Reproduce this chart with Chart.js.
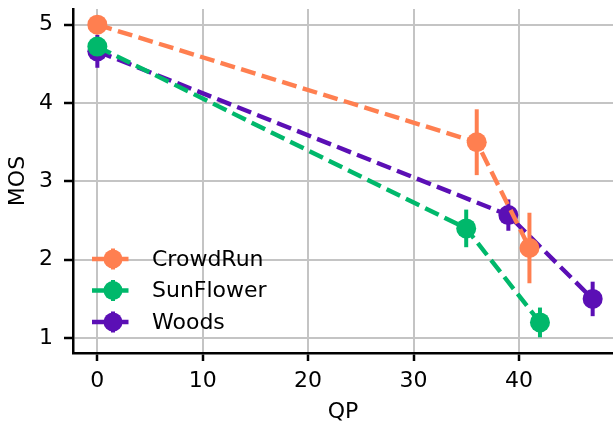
<!DOCTYPE html>
<html>
<head>
<meta charset="utf-8">
<script src="https://cdn.jsdelivr.net/npm/chart.js@4"></script>
<style>
  html, body { margin: 0; padding: 0; background: #fff; }
  #wrap { width: 613px; height: 423px; }
</style>
</head>
<body>
<div id="wrap"><canvas id="mosChart" width="613" height="423"></canvas></div>
<script>
// Data
const seriesNames = ['CrowdRun', 'SunFlower', 'Woods'];
const seriesColors = ['#FF7F50', '#00B86B', '#5B0FB5'];

const crowdRunQP = [0, 36, 41];
const crowdRunMOS = [5.0, 3.5, 2.15];
const crowdRunErr = [0.03, 0.42, 0.45];

const sunFlowerQP = [0, 35, 42];
const sunFlowerMOS = [4.72, 2.4, 1.2];
const sunFlowerErr = [0.1, 0.24, 0.19];

const woodsQP = [0, 39, 47];
const woodsMOS = [4.66, 2.57, 1.5];
const woodsErr = [0.21, 0.2, 0.22];

const xTicks = [0, 10, 20, 30, 40];
const yTicks = [1, 2, 3, 4, 5];

const FONT = 'DejaVu Sans';

function toPoints(xs, ys) {
    return xs.map((x, i) => ({ x: x, y: ys[i] }));
}

const qpLists = [crowdRunQP, sunFlowerQP, woodsQP];
const mosLists = [crowdRunMOS, sunFlowerMOS, woodsMOS];
const errLists = [crowdRunErr, sunFlowerErr, woodsErr];

const datasets = seriesNames.map((name, i) => ({
    label: name,
    data: toPoints(qpLists[i], mosLists[i]),
    errors: errLists[i],
    borderColor: seriesColors[i],
    backgroundColor: seriesColors[i],
    borderWidth: 4.4,
    borderDash: [15, 6.5],
    pointRadius: 10,
    pointBorderWidth: 0,
    pointBackgroundColor: seriesColors[i],
    fill: false,
    tension: 0
}));

// vertical error bars, drawn right before each series' line and markers
const errorBars = {
    id: 'errorBars',
    beforeDatasetDraw(chart, args) {
        const ds = chart.data.datasets[args.index];
        if (!ds.errors) return;
        const xs = chart.scales.x, ys = chart.scales.y;
        const ctx = chart.ctx;
        ctx.save();
        ctx.strokeStyle = ds.borderColor;
        ctx.lineWidth = 4;
        ctx.setLineDash([]);
        ds.data.forEach((p, i) => {
            const e = ds.errors[i];
            const px = xs.getPixelForValue(p.x);
            ctx.beginPath();
            ctx.moveTo(px, ys.getPixelForValue(p.y - e));
            ctx.lineTo(px, ys.getPixelForValue(p.y + e));
            ctx.stroke();
        });
        ctx.restore();
    }
};

// matplotlib-style legend in the lower left, no frame
const mplLegend = {
    id: 'mplLegend',
    afterDraw(chart) {
        const ctx = chart.ctx;
        const rowY = [259, 290.5, 322];
        chart.data.datasets.forEach((ds, i) => {
            const y = rowY[i];
            ctx.save();
            ctx.strokeStyle = ds.borderColor;
            ctx.lineWidth = 4.4;
            ctx.setLineDash([15, 6.5]);
            ctx.beginPath();
            ctx.moveTo(92, y);
            ctx.lineTo(135, y);
            ctx.stroke();
            ctx.setLineDash([]);
            ctx.lineWidth = 4;
            ctx.beginPath();
            ctx.moveTo(113, y - 10.5);
            ctx.lineTo(113, y + 10.5);
            ctx.stroke();
            ctx.fillStyle = ds.borderColor;
            ctx.beginPath();
            ctx.arc(113, y, 9.5, 0, Math.PI * 2);
            ctx.fill();
            ctx.fillStyle = '#000';
            ctx.font = '22px "' + FONT + '"';
            ctx.textAlign = 'left';
            ctx.textBaseline = 'middle';
            ctx.fillText(ds.label, 152, y + 1);
            ctx.restore();
        });
    }
};

// keep the plot box where the figure has it
function noPad(s) {
    s.paddingTop = 0;
    s.paddingBottom = 0;
    s.paddingLeft = 0;
    s.paddingRight = 0;
}

new Chart(document.getElementById('mosChart'), {
    type: 'line',
    data: { datasets: datasets },
    plugins: [errorBars, mplLegend],
    options: {
        responsive: false,
        animation: false,
        devicePixelRatio: 1,
        events: [],
        layout: { autoPadding: false, padding: { top: 9, right: 0, bottom: 0, left: 0 } },
        plugins: {
            legend: { display: false },
            tooltip: { enabled: false }
        },
        scales: {
            x: {
                type: 'linear',
                min: -2.31,
                max: 48.93,
                afterBuildTicks: s => { s.ticks = xTicks.map(v => ({ value: v })); },
                afterFit: s => { s.height = 70; noPad(s); },
                ticks: { color: '#000', font: { family: FONT, size: 22 }, padding: 7 },
                grid: { color: '#c4c4c4', lineWidth: 2, tickColor: '#000', tickLength: 8, tickWidth: 2.5 },
                border: { color: '#000', width: 2.5 },
                title: { display: true, text: 'QP', color: '#000', font: { family: FONT, size: 22, lineHeight: 1 }, padding: { top: 0, bottom: 0 } }
            },
            y: {
                min: 0.81,
                max: 5.2,
                afterBuildTicks: s => { s.ticks = yTicks.map(v => ({ value: v })); },
                afterFit: s => { s.width = 73; noPad(s); },
                ticks: { color: '#000', font: { family: FONT, size: 22 }, padding: 11 },
                grid: { color: '#c4c4c4', lineWidth: 2, tickColor: '#000', tickLength: 9, tickWidth: 2.5 },
                border: { color: '#000', width: 2.5 },
                title: { display: true, text: 'MOS', color: '#000', font: { family: FONT, size: 22, lineHeight: 1 }, padding: { top: 7, bottom: 0 } }
            }
        }
    }
});
</script>
</body>
</html>
